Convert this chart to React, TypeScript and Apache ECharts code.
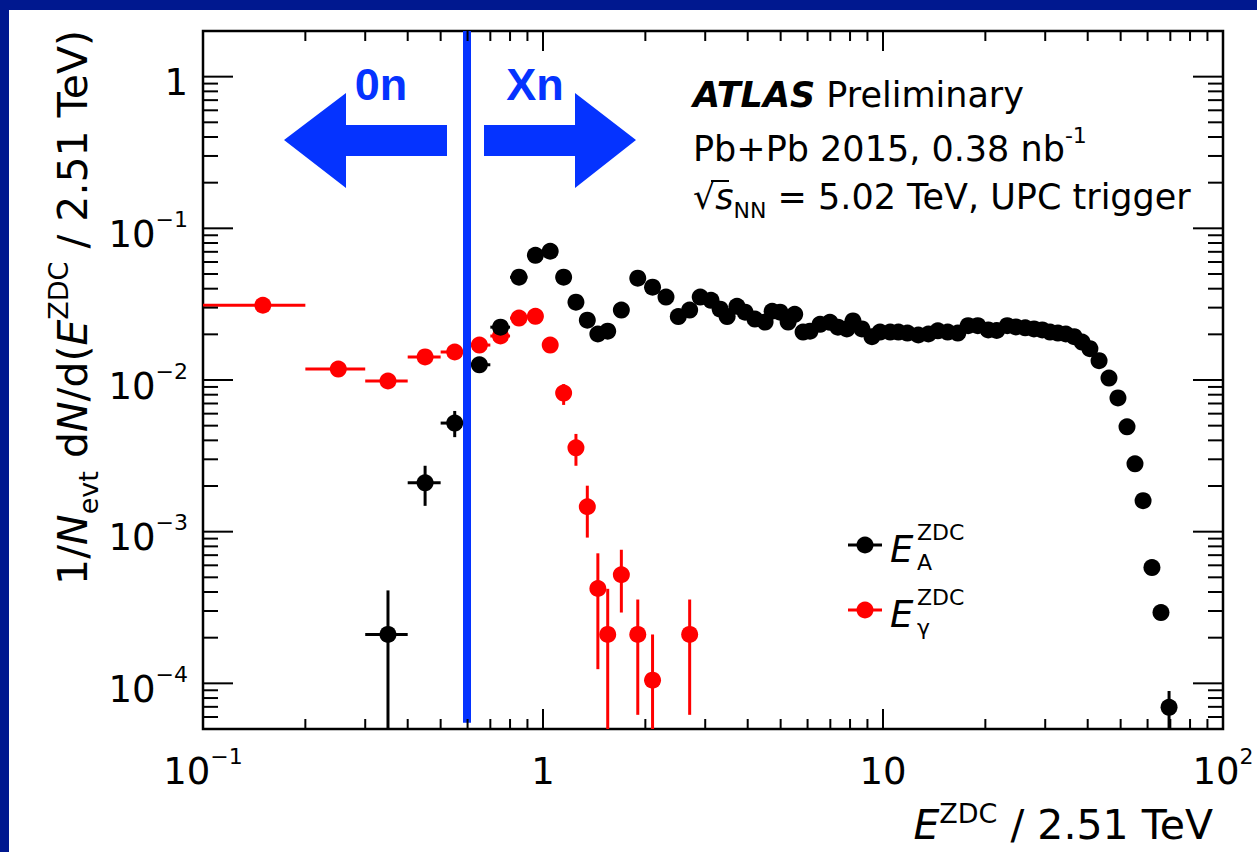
import React, { useEffect, useRef } from 'react';
import * as echarts from 'echarts';

const FONT = '"DejaVu Sans", "Liberation Sans", Arial, sans-serif';
const FONT_SLIDE = '"Liberation Sans", Arial, sans-serif';
const BLUE = '#0533ff';
const NAVY = '#00188f';
const RED = '#ff0000';

// E_A^ZDC (black)
const aX = [0.35, 0.45, 0.55, 0.65, 0.75, 0.85, 0.95, 1.05, 1.15, 1.25, 1.35, 1.45, 1.55, 1.7, 1.9, 2.1, 2.3, 2.5, 2.7, 2.9, 3.12, 3.32, 3.48, 3.72, 3.93, 4.2, 4.5, 4.72, 4.98, 5.26, 5.5, 5.82, 6.1, 6.53, 6.98, 7.37, 7.83, 8.16, 8.67, 9.28, 9.8, 10.5, 11.1, 11.8, 12.7, 13.6, 14.5, 15.5, 16.6, 17.8, 19.0, 20.4, 21.6, 23.2, 24.6, 26.2, 27.8, 29.4, 31.0, 32.7, 34.5, 36.5, 38.5, 40.6, 43.2, 46.2, 49.1, 52.2, 55.1, 58.2, 61.8, 65.7, 69.4];
const aY = [0.00021, 0.0021, 0.0052, 0.0126, 0.0223, 0.0476, 0.0664, 0.0706, 0.0476, 0.0326, 0.0248, 0.0201, 0.021, 0.0289, 0.0469, 0.0409, 0.0352, 0.0262, 0.0289, 0.0352, 0.0335, 0.0293, 0.0262, 0.0306, 0.028, 0.0252, 0.0241, 0.0284, 0.028, 0.0241, 0.0271, 0.0207, 0.021, 0.0233, 0.024, 0.0223, 0.0217, 0.0245, 0.0217, 0.0193, 0.0207, 0.0207, 0.0207, 0.0204, 0.0198, 0.0201, 0.0211, 0.0207, 0.0204, 0.0228, 0.0228, 0.0214, 0.0212, 0.0228, 0.0224, 0.0221, 0.0217, 0.0214, 0.0207, 0.0204, 0.0201, 0.0193, 0.0178, 0.0161, 0.0134, 0.0103, 0.00762, 0.00491, 0.0028, 0.0016, 0.00058, 0.000293, 0.0000695];
const aXErr = [0.05, 0.05, 0.05, 0.05, 0.05, 0.05, 0.05, 0.05, 0.05, 0.05, 0.05, 0.05, 0.05];
const aYLo: (number | null)[] = [0, 0.00148, 0.0042];
const aYHi: (number | null)[] = [0.00041, 0.00272, 0.00625];
const aLastLo = 0.000045;
const aLastHi = 0.000089;

// E_gamma^ZDC (red)
const gX = [0.15, 0.25, 0.35, 0.45, 0.55, 0.65, 0.75, 0.85, 0.95, 1.05, 1.15, 1.25, 1.35, 1.45, 1.55, 1.7, 1.9, 2.1, 2.7];
const gY = [0.0311, 0.0118, 0.00985, 0.0142, 0.0153, 0.017, 0.0195, 0.0256, 0.0263, 0.017, 0.0082, 0.00357, 0.00146, 0.000422, 0.00021, 0.00052, 0.00021, 0.000105, 0.00021];
const gXErr = [0.05, 0.05, 0.05, 0.05, 0.05, 0.05, 0.05, 0.05, 0.05, 0.05, 0.05, 0.05, 0.05, 0.05, 0.05];
const gYLo: (number | null)[] = [null, null, 0.0092, null, null, null, null, null, null, null, 0.00685, 0.00272, 0.000914, 0.000124, 0, 0.000293, 0.000062, 0, 0.000062];
const gYHi: (number | null)[] = [null, null, 0.0106, null, null, null, null, null, null, null, 0.0094, 0.00441, 0.00201, 0.00072, 0.00042, 0.00076, 0.000357, 0.00021, 0.000357];

// axes
const X_MIN = 0.1, X_MAX = 100;
const Y_MIN = 0.00005, Y_MAX = 2;
const xDecades = [0.1, 1, 10];
const yDecades = [0.00001, 0.0001, 0.001, 0.01, 0.1, 1];
const minorSteps = [2, 3, 4, 5, 6, 7, 8, 9];
const xMajorTicks = [1, 10];
const yMajorTicks = [0.0001, 0.001, 0.01, 0.1, 1];
const boundaryX = 0.595; // 0n | Xn separation

function rich(F: number, S: number, H: number, font = FONT) {
  return {
    m: { fontSize: F, fontFamily: font, color: '#000', lineHeight: H, verticalAlign: 'middle' },
    i: { fontSize: F, fontFamily: font, fontStyle: 'italic', color: '#000', lineHeight: H, verticalAlign: 'middle' },
    bi: { fontSize: F, fontFamily: font, fontStyle: 'italic', fontWeight: 'bold', color: '#000', lineHeight: H, verticalAlign: 'middle' },
    sup: { fontSize: S, fontFamily: font, color: '#000', verticalAlign: 'top' },
    sub: { fontSize: S, fontFamily: font, color: '#000', verticalAlign: 'bottom' },
  };
}

function powLabel(v: number) {
  const e = Math.log10(v);
  const r = Math.round(e);
  if (Math.abs(e - r) > 1e-6) return '';
  if (r === 0) return '{m|1}';
  if (r === 1) return '{m|10}';
  return '{m|10}{sup|' + (r < 0 ? '\u2212' + -r : String(r)) + '}';
}

function buildRows(xs: number[], ys: number[], xe: number[], lo: (number | null)[], hi: (number | null)[]) {
  return xs.map((x, k) => [x, ys[k], xe[k] ?? null, lo[k] ?? null, hi[k] ?? null]);
}

const makeErr = (color: string) => (params: any, api: any) => {
  const cs = params.coordSys;
  const bottom = cs.y + cs.height;
  const left = cs.x;
  const x = api.value(0), y = api.value(1), xe = api.value(2), lo = api.value(3), hi = api.value(4);
  const c = api.coord([x, y]);
  const children: any[] = [];
  if (Number.isFinite(xe)) {
    const a = api.coord([x - xe, y]);
    const b = api.coord([x + xe, y]);
    children.push({ type: 'line', shape: { x1: Math.max(a[0], left), y1: c[1], x2: b[0], y2: c[1] }, style: { stroke: color, lineWidth: 3 } });
  }
  if (Number.isFinite(lo) && Number.isFinite(hi)) {
    const top = api.coord([x, hi])[1];
    const bot = lo > 0 ? Math.min(api.coord([x, lo])[1], bottom) : bottom;
    children.push({ type: 'line', shape: { x1: c[0], y1: top, x2: c[0], y2: bot }, style: { stroke: color, lineWidth: 3 } });
  }
  return { type: 'group', children };
};

const renderTicks = (params: any, api: any) => {
  const cs = params.coordSys;
  const left = cs.x, right = cs.x + cs.width, top = cs.y, bottom = cs.y + cs.height;
  const children: any[] = [];
  const seg = (x1: number, y1: number, x2: number, y2: number) =>
    children.push({ type: 'line', shape: { x1, y1, x2, y2 }, style: { stroke: '#000', lineWidth: 2 } });
  const xt: [number, boolean][] = [];
  xMajorTicks.forEach((v) => xt.push([v, true]));
  xDecades.forEach((d) => minorSteps.forEach((m) => xt.push([d * m, false])));
  const yt: [number, boolean][] = [];
  yMajorTicks.forEach((v) => yt.push([v, true]));
  yDecades.forEach((d) => minorSteps.forEach((m) => {
    const v = d * m;
    if (v > Y_MIN * 1.0001 && v < Y_MAX * 0.9999) yt.push([v, false]);
  }));
  xt.forEach(([v, major]) => {
    const px = api.coord([v, 1])[0];
    const L = major ? 20 : 10;
    seg(px, bottom, px, bottom - L);
    seg(px, top, px, top + L);
  });
  yt.forEach(([v, major]) => {
    const py = api.coord([1, v])[1];
    const L = major ? 30 : 15;
    seg(left, py, left + L, py);
    seg(right, py, right - L, py);
  });
  return { type: 'group', children };
};

function buildOption(): any {
  const aRows = buildRows(aX, aY, aXErr, aYLo, aYHi);
  aRows[aRows.length - 1][3] = aLastLo;
  aRows[aRows.length - 1][4] = aLastHi;
  const gRows = buildRows(gX, gY, gXErr, gYLo, gYHi);

  const T = 35, TS = 22, TH = 49;
  const legendItems = [
    { color: '#000', y: 545, sub: 'A' },
    { color: RED, y: 610, sub: '\u03b3' },
  ];

  const graphic: any[] = [
    { type: 'rect', left: 0, top: 0, shape: { width: 1257, height: 10 }, style: { fill: NAVY }, silent: true },
    { type: 'rect', left: 0, top: 0, shape: { width: 9, height: 852 }, style: { fill: NAVY }, silent: true },
    // arrows
    { type: 'polygon', shape: { points: [[284, 140], [346, 93], [346, 125], [447, 125], [447, 156], [346, 156], [346, 188]] }, style: { fill: BLUE }, z: 20 },
    { type: 'polygon', shape: { points: [[484, 125], [575, 125], [575, 93], [636, 140], [575, 188], [575, 156], [484, 156]] }, style: { fill: BLUE }, z: 20 },
    { type: 'text', x: 381, y: 84, z: 20, style: { text: '0n', fill: BLUE, font: 'bold 45px ' + FONT_SLIDE, align: 'center', verticalAlign: 'middle' } },
    { type: 'text', x: 535, y: 84, z: 20, style: { text: 'Xn', fill: BLUE, font: 'bold 45px ' + FONT_SLIDE, align: 'center', verticalAlign: 'middle' } },
    // ATLAS block
    { type: 'text', x: 693, y: 95, z: 20, style: { text: '{bi|ATLAS}{m| Preliminary}', rich: rich(T, TS, TH), align: 'left', verticalAlign: 'middle' } },
    { type: 'text', x: 693, y: 149, z: 20, style: { text: '{m|Pb+Pb 2015, 0.38 nb}{sup|-1}', rich: rich(T, TS, TH), align: 'left', verticalAlign: 'middle' } },
    { type: 'text', x: 693, y: 197, z: 20, style: { text: '{m|\u221a}{i|s}{sub|NN}{m| = 5.02 TeV, UPC trigger}', rich: rich(T, TS, TH), align: 'left', verticalAlign: 'middle' } },
    { type: 'line', shape: { x1: 711, y1: 181, x2: 729, y2: 181 }, style: { stroke: '#000', lineWidth: 2 }, z: 20 },
    // axis titles
    { type: 'text', x: 73, y: 30, rotation: Math.PI / 2, z: 20, style: { text: '{m|1/}{i|N}{sub|evt}{m| d}{i|N}{m|/d(}{i|E}{sup|ZDC}{m| / 2.51 TeV)}', rich: rich(41, 27, 57), align: 'right', verticalAlign: 'middle' } },
    { type: 'text', x: 1213, y: 825, z: 20, style: { text: '{i|E}{sup|ZDC}{m| / 2.51 TeV}', rich: rich(41, 27, 50), align: 'right', verticalAlign: 'middle' } },
  ];
  legendItems.forEach((it) => {
    graphic.push({ type: 'line', shape: { x1: 848, y1: it.y, x2: 882, y2: it.y }, style: { stroke: it.color, lineWidth: 3 }, z: 20 });
    graphic.push({ type: 'circle', shape: { cx: 865, cy: it.y, r: 8.5 }, style: { fill: it.color }, z: 20 });
    graphic.push({ type: 'text', x: 890, y: it.y + 4, z: 20, style: { text: 'E', font: 'italic 37px ' + FONT, fill: '#000', align: 'left', verticalAlign: 'middle' } });
    graphic.push({ type: 'text', x: 917, y: it.y - 13, z: 20, style: { text: 'ZDC', font: '22px ' + FONT, fill: '#000', align: 'left', verticalAlign: 'middle' } });
    graphic.push({ type: 'text', x: 917, y: it.y + 17, z: 20, style: { text: it.sub, font: '22px ' + FONT, fill: '#000', align: 'left', verticalAlign: 'middle' } });
  });

  return {
    animation: false,
    backgroundColor: '#fff',
    grid: { left: 203, right: 34, top: 31, bottom: 123, show: true, borderColor: '#000', borderWidth: 2.5, backgroundColor: 'transparent' },
    xAxis: {
      type: 'log', logBase: 10, min: X_MIN, max: X_MAX,
      axisLine: { show: false }, axisTick: { show: false }, splitLine: { show: false }, minorTick: { show: false },
      axisLabel: { margin: 16, formatter: powLabel, rich: rich(37, 22, 52), showMinLabel: true, showMaxLabel: true },
    },
    yAxis: {
      type: 'log', logBase: 10, min: Y_MIN, max: Y_MAX,
      axisLine: { show: false }, axisTick: { show: false }, splitLine: { show: false }, minorTick: { show: false },
      axisLabel: { margin: 15, formatter: powLabel, rich: rich(37, 22, 52), padding: [12, 0, 0, 0] },
    },
    graphic,
    series: [
      { type: 'custom', name: 'ticks', renderItem: renderTicks, data: [[1, 1]], encode: { x: 0, y: 1 }, silent: true, z: 10 },
      { type: 'custom', name: 'gErr', renderItem: makeErr(RED), data: gRows, encode: { x: 0, y: 1 }, silent: true, z: 2 },
      { type: 'scatter', name: 'gamma', data: gX.map((x, k) => [x, gY[k]]), symbol: 'circle', symbolSize: 17, itemStyle: { color: RED, opacity: 1 }, silent: true, z: 3 },
      { type: 'custom', name: 'aErr', renderItem: makeErr('#000'), data: aRows, encode: { x: 0, y: 1 }, silent: true, z: 4 },
      { type: 'scatter', name: 'A', data: aX.map((x, k) => [x, aY[k]]), symbol: 'circle', symbolSize: 17, itemStyle: { color: '#000', opacity: 1 }, silent: true, z: 5 },
      {
        type: 'scatter', name: 'boundary', data: [], silent: true, z: 8,
        markLine: {
          silent: true, symbol: 'none', label: { show: false },
          lineStyle: { color: BLUE, width: 8, type: 'solid' },
          data: [[{ coord: [boundaryX, 0.000055] }, { coord: [boundaryX, Y_MAX] }]],
        },
      },
    ],
  };
}

export default function App() {
  const ref = useRef<HTMLDivElement>(null);
  useEffect(() => {
    const chart = echarts.init(ref.current!, null, { renderer: 'svg' });
    chart.setOption(buildOption());
    return () => chart.dispose();
  }, []);
  return <div ref={ref} style={{ position: 'absolute', left: 0, top: 0, width: 1257, height: 852, background: '#fff' }} />;
}
